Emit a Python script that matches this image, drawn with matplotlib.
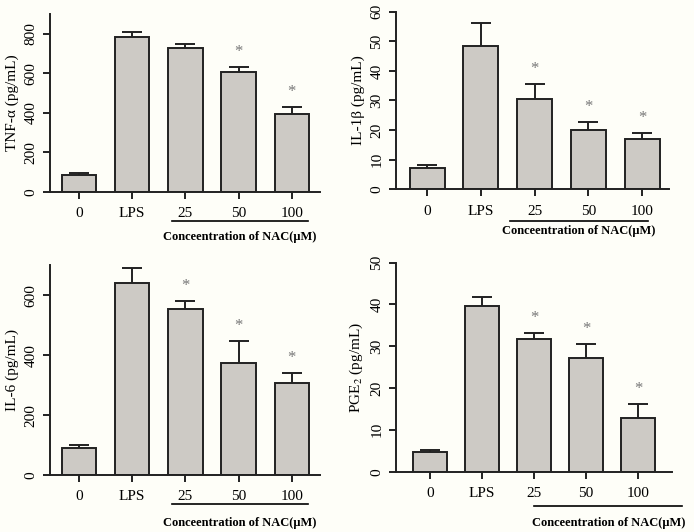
import matplotlib
matplotlib.use("Agg")
import matplotlib.pyplot as plt
from matplotlib import font_manager
import numpy as np

# data
groups = ["0", "LPS", "25", "50", "100"]

tnf_mean = [88, 786, 726, 606, 396]
tnf_err = [10, 22, 20, 27, 33]
tnf_sig = [False, False, False, True, True]

il1b_mean = [7.1, 48.5, 30.4, 19.9, 16.9]
il1b_err = [1.0, 7.6, 5.1, 2.7, 2.1]
il1b_sig = [False, False, True, True, True]

il6_mean = [90, 642, 556, 373, 308]
il6_err = [9, 50, 25, 74, 34]
il6_sig = [False, False, True, True, True]

pge2_mean = [4.6, 39.5, 31.8, 27.1, 12.8]
pge2_err = [0.7, 2.2, 1.3, 3.4, 3.3]
pge2_sig = [False, False, True, True, True]

names = {f.name for f in font_manager.fontManager.ttflist}
serif = "Liberation Serif" if "Liberation Serif" in names else "DejaVu Serif"

plt.rcParams["font.family"] = serif
plt.rcParams["font.size"] = 11
plt.rcParams["mathtext.fontset"] = "stix"

bar_color = "#cdcac5"
edge = "#222222"
bg = "#fefef8"

fig = plt.figure(figsize=(6.94, 5.32), dpi=100, facecolor=bg)

panels = [
    # mean, err, sig, ylabel, ymax, ystep, axes box px, xlim, underline span, underline y px, label y px
    (tnf_mean, tnf_err, tnf_sig, "TNF-\u03b1 (pg/mL)", 900, 200,
     [50, 320, 192, 14], (-0.545, 4.53), (1.75, 4.3), 220.7, 237),
    (il1b_mean, il1b_err, il1b_sig, "IL-1\u03b2 (pg/mL)", 60, 10,
     [396, 669, 189.3, 11.7], (-0.58, 4.5), (1.55, 4.1), 221, 231),
    (il6_mean, il6_err, il6_sig, "IL-6 (pg/mL)", 700, 200,
     [50, 320, 475, 265.4], (-0.545, 4.53), (1.75, 4.3), 504, 523),
    (pge2_mean, pge2_err, pge2_sig, "PGE$_2$ (pg/mL)", 50, 10,
     [396, 672, 471.7, 262.5], (-0.65, 4.65), (2.0, 4.85), 506, 523),
]

W, H = 694.0, 532.0
x = np.arange(len(groups))

for mean, err, sig, ylabel, ymax, ystep, rect, xlim, span, liney, laby in panels:
    l, r, b, t = rect
    ax = fig.add_axes([l / W, 1 - b / H, (r - l) / W, (b - t) / H])
    ax.set_facecolor(bg)
    ax.errorbar(x, mean, yerr=err, fmt="none", ecolor=edge, elinewidth=1.4,
                capsize=7.5, capthick=1.4, zorder=1)
    ax.bar(x, mean, width=0.65, color=bar_color, edgecolor=edge,
           linewidth=1.4, zorder=2)
    for xi, m, e, s in zip(x, mean, err, sig):
        if s:
            ax.annotate("*", (xi, m + e), xytext=(0, 5), textcoords="offset points",
                        ha="center", va="bottom", color="#777777", fontsize=12)
    ax.set_xlim(*xlim)
    ax.set_ylim(0, ymax)
    ax.set_yticks(np.arange(0, ymax + 1, ystep))
    ax.set_xticks(x)
    ax.set_xticklabels(groups)
    for lab in ax.get_yticklabels():
        lab.set_rotation(90)
        lab.set_va("center")
    for sp in ["top", "right"]:
        ax.spines[sp].set_visible(False)
    for sp in ["left", "bottom"]:
        ax.spines[sp].set_linewidth(1.4)
        ax.spines[sp].set_color(edge)
    ax.tick_params(axis="x", width=1.4, length=5, color=edge, pad=6)
    ax.tick_params(axis="y", width=1.4, length=5, color=edge, pad=4)
    ax.set_ylabel(ylabel, labelpad=4)

    # underline + label for NAC doses
    x0 = l + (r - l) * (span[0] - xlim[0]) / (xlim[1] - xlim[0])
    x1 = l + (r - l) * (span[1] - xlim[0]) / (xlim[1] - xlim[0])
    fig.add_artist(plt.Line2D([x0 / W, x1 / W], [1 - liney / H] * 2,
                              color="black", lw=1.2))
    fig.text((x0 + x1) / 2 / W, 1 - laby / H, "Conceentration of NAC(\u03bcM)",
             family=serif, weight="bold", fontsize=9,
             ha="center", va="center")

fig.savefig("out.png", dpi=100, facecolor=bg)
